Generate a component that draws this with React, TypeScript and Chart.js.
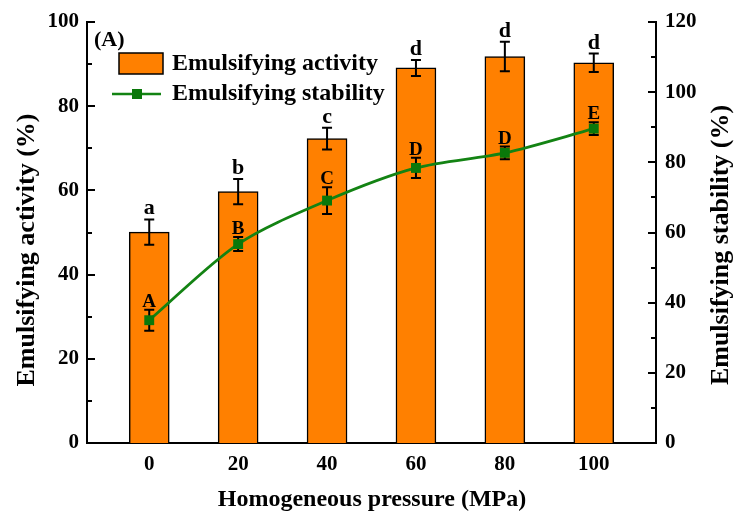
import { useEffect, useRef } from "react";
import { Chart, registerables } from "chart.js";

Chart.register(...registerables);

const pressures = [0, 20, 40, 60, 80, 100];
const activity = [50.1, 59.7, 72.3, 89.1, 91.8, 90.3];
const activityErr = [3.0, 3.0, 2.6, 1.9, 3.5, 2.2];
const activityLetters = ["a", "b", "c", "d", "d", "d"];
const stability = [35.0, 56.7, 69.1, 78.4, 82.7, 89.6];
const stabilityErr = [3.0, 2.0, 3.8, 2.9, 1.8, 1.8];
const stabilityLetters = ["A", "B", "C", "D", "D", "E"];
const xTickValues = [0, 20, 40, 60, 80, 100];
const leftMinorStep = 10;
const rightMinorStep = 10;

const FONT = '"Liberation Serif", "Times New Roman", serif';
const ORANGE = "#FF8000";
const GREEN = "#138313";
const MARKER = "#0a780a";

function errBar(ctx: CanvasRenderingContext2D, x: number, yTop: number, yBot: number, half: number) {
  ctx.beginPath();
  ctx.moveTo(x, yTop);
  ctx.lineTo(x, yBot);
  ctx.moveTo(x - half, yTop);
  ctx.lineTo(x + half, yTop);
  ctx.moveTo(x - half, yBot);
  ctx.lineTo(x + half, yBot);
  ctx.stroke();
}

const overlay = {
  id: "overlay",
  afterDatasetDraw(chart: any, args: any) {
    if (args.meta.type !== "bar") return;
    const ctx = chart.ctx as CanvasRenderingContext2D;
    const x = chart.scales.x;
    const y = chart.scales.y;
    const y1 = chart.scales.y1;
    ctx.save();
    ctx.strokeStyle = "#000";
    ctx.lineWidth = 2;
    pressures.forEach((p, i) => {
      const px = x.getPixelForValue(p);
      errBar(ctx, px, y.getPixelForValue(activity[i] + activityErr[i]), y.getPixelForValue(activity[i] - activityErr[i]), 5);
      errBar(ctx, px, y1.getPixelForValue(stability[i] + stabilityErr[i]), y1.getPixelForValue(stability[i] - stabilityErr[i]), 5);
    });
    ctx.restore();
  },
  afterDraw(chart: any) {
    const ctx = chart.ctx as CanvasRenderingContext2D;
    const x = chart.scales.x;
    const y = chart.scales.y;
    const y1 = chart.scales.y1;
    const area = chart.chartArea;
    ctx.save();
    // inward ticks
    ctx.strokeStyle = "#000";
    ctx.lineWidth = 2;
    for (let v = y.min; v <= y.max + 0.001; v += leftMinorStep) {
      const py = Math.round(y.getPixelForValue(v));
      const len = v % 20 === 0 ? 8 : 5;
      ctx.beginPath();
      ctx.moveTo(area.left, py);
      ctx.lineTo(area.left + len, py);
      ctx.stroke();
    }
    for (let v = y1.min; v <= y1.max + 0.001; v += rightMinorStep) {
      const py = Math.round(y1.getPixelForValue(v));
      const len = v % 20 === 0 ? 8 : 5;
      ctx.beginPath();
      ctx.moveTo(area.right, py);
      ctx.lineTo(area.right - len, py);
      ctx.stroke();
    }
    // significance letters
    ctx.fillStyle = "#000";
    ctx.textAlign = "center";
    ctx.textBaseline = "alphabetic";
    ctx.font = `bold 22px ${FONT}`;
    pressures.forEach((p, i) => {
      const px = x.getPixelForValue(p);
      ctx.fillText(activityLetters[i], px, y.getPixelForValue(activity[i] + activityErr[i]) - 5);
    });
    ctx.font = `bold 19px ${FONT}`;
    pressures.forEach((p, i) => {
      const px = x.getPixelForValue(p);
      ctx.fillText(stabilityLetters[i], px, y1.getPixelForValue(stability[i] + stabilityErr[i]) - 3);
    });
    // (A)
    ctx.textAlign = "left";
    ctx.font = `bold 22px ${FONT}`;
    ctx.fillText("(A)", 94, 46);
    // legend
    ctx.fillStyle = ORANGE;
    ctx.fillRect(119, 53, 44, 21);
    ctx.strokeStyle = "#000";
    ctx.lineWidth = 1.5;
    ctx.strokeRect(119, 53, 44, 21);
    ctx.strokeStyle = GREEN;
    ctx.lineWidth = 2.5;
    ctx.beginPath();
    ctx.moveTo(112, 94);
    ctx.lineTo(161, 94);
    ctx.stroke();
    ctx.fillStyle = MARKER;
    ctx.fillRect(132, 89, 10, 10);
    ctx.fillStyle = "#000";
    ctx.font = `bold 24px ${FONT}`;
    ctx.textBaseline = "middle";
    ctx.fillText("Emulsifying activity", 172, 64);
    ctx.fillText("Emulsifying stability", 172, 94);
    // axis titles
    ctx.textBaseline = "alphabetic";
    ctx.textAlign = "center";
    ctx.font = `bold 24px ${FONT}`;
    ctx.fillText("Homogeneous pressure (MPa)", 372, 506);
    ctx.font = `bold 26px ${FONT}`;
    ctx.save();
    ctx.translate(34, 250);
    ctx.rotate(-Math.PI / 2);
    ctx.fillText("Emulsifying activity (%)", 0, 0);
    ctx.restore();
    ctx.save();
    ctx.translate(728, 245);
    ctx.rotate(-Math.PI / 2);
    ctx.fillText("Emulsifying stability (%)", 0, 0);
    ctx.restore();
    ctx.restore();
  },
};

export default function App() {
  const ref = useRef<HTMLCanvasElement | null>(null);
  useEffect(() => {
    document.body.style.margin = "0";
    if (!ref.current) return;
    const tickFont = { family: FONT, size: 21, weight: "bold" as const };
    const chart = new Chart(ref.current, {
      type: "bar",
      data: {
        datasets: [
          {
            type: "line" as const,
            label: "Emulsifying stability",
            data: pressures.map((p, i) => ({ x: p, y: stability[i] })),
            yAxisID: "y1",
            borderColor: GREEN,
            backgroundColor: MARKER,
            borderWidth: 2.8,
            pointStyle: "rect",
            pointRadius: 7,
            pointBorderWidth: 0,
            pointBackgroundColor: MARKER,
            tension: 0.3,
            order: 0,
          },
          {
            type: "bar" as const,
            label: "Emulsifying activity",
            data: pressures.map((p, i) => ({ x: p, y: activity[i] })),
            yAxisID: "y",
            backgroundColor: ORANGE,
            borderColor: "#000",
            borderWidth: 1.5,
            barThickness: 40,
            order: 1,
          },
        ],
      },
      options: {
        animation: false,
        responsive: false,
        devicePixelRatio: 1,
        layout: { padding: { top: 22, left: 0, right: 0, bottom: 0 } },
        plugins: { legend: { display: false }, tooltip: { enabled: false } },
        scales: {
          x: {
            type: "linear",
            min: -14,
            max: 114,
            offset: false,
            grid: { display: false, drawTicks: false },
            border: { display: true, color: "#000", width: 2 },
            ticks: { stepSize: 20, font: tickFont, color: "#000", padding: 9, maxRotation: 0 },
            afterBuildTicks: (s: any) => {
              s.ticks = xTickValues.map((v) => ({ value: v }));
            },
            afterFit: (s: any) => {
              s.height = 80;
            },
          },
          y: {
            position: "left",
            min: 0,
            max: 100,
            grid: { display: false, drawTicks: false },
            border: { display: true, color: "#000", width: 2 },
            ticks: { stepSize: 20, font: tickFont, color: "#000", padding: 8 },
            afterFit: (s: any) => {
              s.width = 87;
            },
          },
          y1: {
            position: "right",
            min: 0,
            max: 120,
            grid: { display: false, drawTicks: false },
            border: { display: true, color: "#000", width: 2 },
            ticks: { stepSize: 20, font: tickFont, color: "#000", padding: 9 },
            afterFit: (s: any) => {
              s.width = 89;
            },
          },
        },
      },
      plugins: [overlay],
    } as any);
    return () => chart.destroy();
  }, []);
  return (
    <div style={{ width: 745, height: 523, background: "#fff" }}>
      <canvas ref={ref} width={745} height={523} style={{ display: "block" }} />
    </div>
  );
}
